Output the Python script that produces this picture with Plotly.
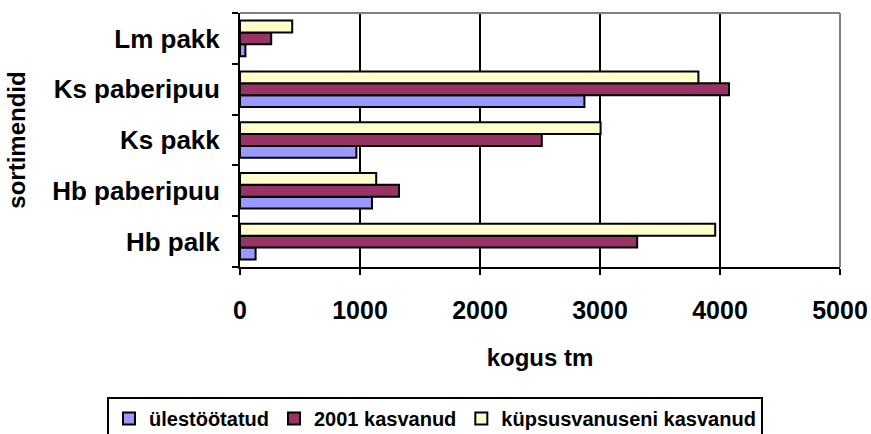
import plotly.graph_objects as go

# ── Data ─────────────────────────────────────────────────────────
CATEGORIES = ["Hb palk", "Hb paberipuu", "Ks pakk", "Ks paberipuu", "Lm pakk"]

ULESTOOTATUD = [130, 1100, 970, 2870, 45]
KASVANUD_2001 = [3310, 1325, 2515, 4075, 260]
KUPSUSVANUSENI = [3960, 1135, 3005, 3820, 435]

X_TICKS = [0, 1000, 2000, 3000, 4000, 5000]

SERIES = [
    ("ülestöötatud", ULESTOOTATUD, "#9999FF"),
    ("2001 kasvanud", KASVANUD_2001, "#993366"),
    ("küpsusvanuseni kasvanud", KUPSUSVANUSENI, "#FFFFCC"),
]

FONT = "Liberation Sans, Arial, sans-serif"

fig = go.Figure()

for name, values, color in SERIES:
    fig.add_trace(go.Bar(
        y=CATEGORIES,
        x=values,
        name=name,
        orientation="h",
        marker=dict(color=color, line=dict(color="black", width=2)),
    ))

# gray frame on top and right like the Excel chart
fig.add_shape(type="line", xref="paper", yref="paper", x0=0, x1=1, y0=1, y1=1,
              line=dict(color="#808080", width=2))
fig.add_shape(type="line", xref="paper", yref="paper", x0=1, x1=1, y0=0, y1=1,
              line=dict(color="#808080", width=2))

fig.update_layout(
    width=871,
    height=434,
    barmode="group",
    bargap=0.3,
    bargroupgap=0,
    paper_bgcolor="white",
    plot_bgcolor="white",
    font=dict(family=FONT, size=24, color="black", weight="bold"),
    margin=dict(l=240, r=31, t=13, b=167, autoexpand=False),
    xaxis=dict(
        range=[0, 5000],
        tickvals=X_TICKS,
        showgrid=True,
        gridcolor="black",
        gridwidth=2,
        zeroline=False,
        showline=True,
        linecolor="black",
        linewidth=2,
        ticks="outside",
        ticklen=6,
        tickwidth=2,
        tickcolor="black",
        ticklabelstandoff=14,
        tickfont=dict(size=25, family=FONT, weight="bold"),
        title=dict(text="kogus tm", standoff=26,
                   font=dict(size=24, family=FONT, weight="bold")),
        automargin=False,
    ),
    yaxis=dict(
        showgrid=False,
        zeroline=False,
        showline=True,
        linecolor="black",
        linewidth=2,
        ticks="outside",
        tickson="boundaries",
        ticklen=6,
        tickwidth=2,
        tickcolor="black",
        ticklabelstandoff=13,
        tickfont=dict(size=26, family=FONT, weight="bold"),
        title=dict(text="sortimendid", standoff=20,
                   font=dict(size=24, family=FONT, weight="bold")),
        automargin=False,
    ),
    legend=dict(
        orientation="h",
        x=(107 - 240) / 600,
        xanchor="left",
        y=(267 - 397) / 254,
        yanchor="top",
        bordercolor="black",
        borderwidth=2,
        font=dict(size=20, family=FONT, weight="bold"),
        traceorder="normal",
        itemwidth=30,
    ),
)

fig.write_html(
    "out.html",
    config={"displayModeBar": False},
    post_script="document.body.style.margin='0';",
)
